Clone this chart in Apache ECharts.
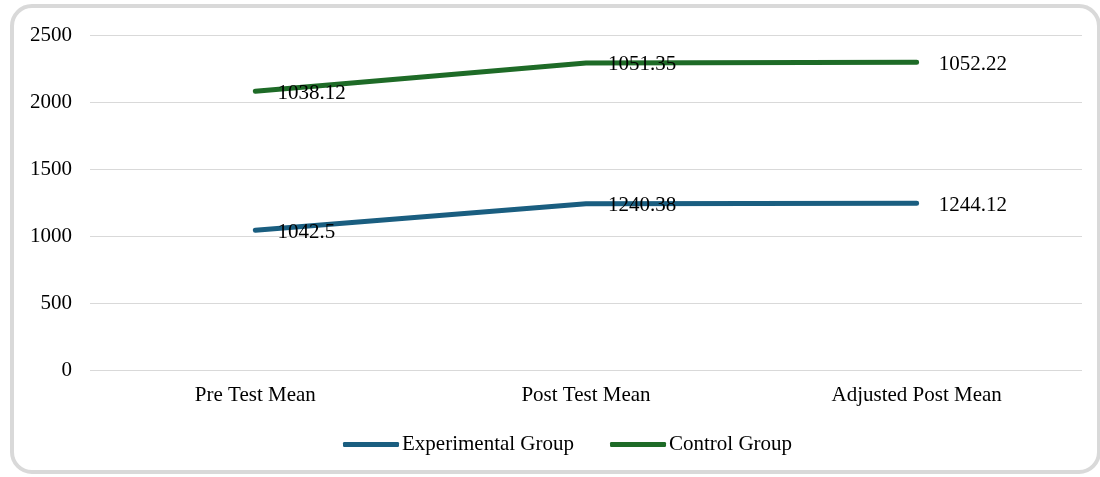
<!DOCTYPE html>
<html>
<head>
<meta charset="utf-8">
<script src="https://cdn.jsdelivr.net/npm/echarts@6/dist/echarts.min.js"></script>
<style>
html,body{margin:0;padding:0;background:#fff;}
#frame{position:absolute;left:10px;top:4px;width:1083px;height:462px;border:4px solid #d9d9d9;border-radius:22px;}
#chart{position:absolute;left:0;top:0;width:1100px;height:477px;}
</style>
</head>
<body>
<div id="frame"></div>
<div id="chart"></div>
<script>
const categories = ['Pre Test Mean', 'Post Test Mean', 'Adjusted Post Mean'];
const experimental = [1042.5, 1240.38, 1244.12];
const control = [1038.12, 1051.35, 1052.22];
const yTicks = [0, 500, 1000, 1500, 2000, 2500];

const font = 'Liberation Serif, Times New Roman, serif';
const fs = 21;
const chart = echarts.init(document.getElementById('chart'));
const lbl = {show: true, position: 'right', distance: 22, color: '#000', fontFamily: font, fontSize: fs, offset: [0, 2]};
chart.setOption({
  animation: false,
  grid: {left: 90, right: 18, top: 35, bottom: 107},
  xAxis: {
    type: 'category', data: categories, boundaryGap: true,
    axisLine: {show: false}, axisTick: {show: false},
    axisLabel: {color: '#000', fontFamily: font, fontSize: fs, margin: 15}
  },
  yAxis: {
    type: 'value', min: yTicks[0], max: yTicks[yTicks.length - 1], interval: 500,
    axisLine: {show: false}, axisTick: {show: false},
    splitLine: {lineStyle: {color: '#d9d9d9', width: 1}},
    axisLabel: {color: '#000', fontFamily: font, fontSize: fs, margin: 18, formatter: v => String(v)}
  },
  legend: {
    top: 429, left: 338, itemGap: 36, itemWidth: 56, itemHeight: 5,
    icon: 'roundRect',
    textStyle: {color: '#000', fontFamily: font, fontSize: fs, padding: [0, 0, 0, -2]},
    data: ['Experimental Group', 'Control Group']
  },
  series: [
    {name: 'Experimental Group', type: 'line', stack: 'total', data: experimental,
     symbol: 'circle', symbolSize: 0.1, color: '#1a5e80',
     lineStyle: {width: 5, cap: 'round', color: '#1a5e80'}, label: lbl},
    {name: 'Control Group', type: 'line', stack: 'total', data: control,
     symbol: 'circle', symbolSize: 0.1, color: '#1e6b27',
     lineStyle: {width: 5, cap: 'round', color: '#1e6b27'}, label: lbl}
  ]
});
</script>
</body>
</html>
